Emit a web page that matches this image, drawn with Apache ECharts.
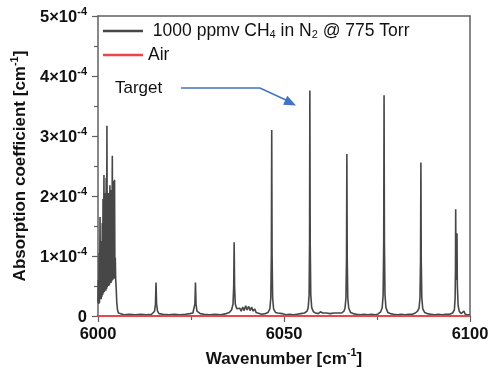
<!DOCTYPE html>
<html>
<head>
<meta charset="utf-8">
<script src="https://cdn.jsdelivr.net/npm/echarts@6/dist/echarts.min.js"></script>
<style>
html,body{margin:0;padding:0;background:#fff}
#chart{width:489px;height:370px}
</style>
</head>
<body>
<div id="chart"></div>
<script>
// absorption values are in units of 1e-4 cm^-1
var xTicks = [6000, 6050, 6100];
var yTicks = [0, 1, 2, 3, 4, 5];
var yExponent = '-4';

var seriesNames = ['1000 ppmv CH4 in N2 @ 775 Torr', 'Air'];

// band head region, dense lines
var ch4BandHead = [
	[6000.0,0.22],[6000.1,0.6],[6000.2,0.2],[6000.3,1.05],[6000.4,0.22],[6000.55,1.65],[6000.65,0.3],
	[6000.75,1.25],[6000.85,0.28],[6000.95,0.9],[6001.05,0.32],[6001.15,1.55],[6001.25,0.35],[6001.35,1.95],
	[6001.45,0.38],[6001.6,2.35],[6001.7,0.4],[6001.8,1.75],[6001.9,0.42],[6002.0,2.05],[6002.1,0.42],
	[6002.2,2.3],[6002.3,0.45],[6002.4,3.17],[6002.5,0.48],[6002.6,1.95],[6002.7,0.5],[6002.8,2.05],
	[6002.9,0.5],[6003.0,1.85],[6003.1,0.52],[6003.2,2.18],[6003.3,0.55],[6003.4,2.0],[6003.5,0.55],
	[6003.6,2.1],[6003.7,0.58],[6003.85,2.67],[6003.95,0.6],[6004.05,2.0],[6004.15,0.62],[6004.25,2.25],
	[6004.35,0.62],[6004.45,2.27],[6004.55,0.63],[6004.65,0.97],[6004.75,0.62],[6004.9,0.45],[6005.05,0.22],
	[6005.25,0.1],[6005.5,0.05],[6006,0.03]
];

// isolated lines and baseline
var ch4Lines = [
	[6007,0.02],[6008.5,0.03],[6010,0.02],[6011.5,0.03],[6013,0.02],[6014.4,0.03],
	[6014.8,0.04],[6015.2,0.08],[6015.45,0.2],[6015.6,0.56],[6015.75,0.2],[6016.0,0.08],[6016.4,0.04],
	[6017.5,0.03],[6019,0.02],[6020.5,0.03],[6022,0.02],[6023.5,0.03],[6024.7,0.04],[6025.1,0.01],[6025.5,0.05],
	[6025.8,0.08],[6026.05,0.2],[6026.2,0.56],[6026.35,0.2],[6026.6,0.08],[6027,0.05],[6027.5,0.04],
	[6028.5,0.03],[6030,0.02],[6031.5,0.03],[6033,0.02],[6034.5,0.04],[6035.3,0.06],
	[6035.9,0.1],[6036.3,0.2],[6036.48,0.5],[6036.6,1.23],[6036.72,0.5],[6036.9,0.2],[6037.3,0.12],
	[6037.7,0.1],[6038.1,0.13],[6038.5,0.08],[6038.9,0.15],[6039.3,0.09],[6039.7,0.17],[6040.1,0.1],
	[6040.5,0.16],[6040.9,0.09],[6041.3,0.15],[6041.7,0.08],[6042.1,0.12],[6042.5,0.06],[6043,0.05],
	[6044,0.03],[6045,0.04],[6045.7,0.06],
	[6046.2,0.12],[6046.45,0.3],[6046.6,1.0],[6046.7,3.1],[6046.8,1.0],[6046.95,0.3],[6047.2,0.12],[6047.7,0.06],
	[6048.3,0.05],[6048.8,0.03],[6049.5,0.04],[6050.5,0.02],[6051.5,0.03],[6052.5,0.02],[6053.5,0.03],
	[6054.5,0.04],[6055.5,0.05],[6056.2,0.08],
	[6056.5,0.14],[6056.75,0.35],[6056.87,1.2],[6056.95,3.76],[6057.05,1.2],[6057.2,0.35],[6057.45,0.14],[6057.9,0.07],
	[6058.5,0.05],[6059.2,0.04],[6059.8,0.07],[6060.4,0.05],[6060.9,0.08],[6061.4,0.05],[6061.9,0.07],
	[6062.4,0.04],[6062.9,0.07],[6063.4,0.05],[6063.9,0.08],[6064.4,0.05],[6064.9,0.04],[6065.5,0.05],[6066.1,0.08],
	[6066.4,0.13],[6066.65,0.3],[6066.8,0.95],[6066.9,2.7],[6067.0,0.95],[6067.15,0.3],[6067.4,0.13],[6067.9,0.06],
	[6068.6,0.04],[6069.5,0.03],[6070.5,0.02],[6071.5,0.03],[6072.5,0.02],[6073.5,0.03],[6074.5,0.02],
	[6075.2,0.03],[6076.0,0.07],
	[6076.4,0.14],[6076.65,0.35],[6076.8,1.2],[6076.9,3.68],[6077.0,1.2],[6077.15,0.35],[6077.4,0.14],[6077.9,0.06],
	[6078.6,0.04],[6079.5,0.03],[6080.5,0.02],[6081.5,0.03],[6082.5,0.02],[6083.5,0.03],[6084.5,0.03],
	[6085.3,0.05],[6085.9,0.08],
	[6086.3,0.13],[6086.55,0.3],[6086.7,0.9],[6086.8,2.56],[6086.9,0.9],[6087.05,0.3],[6087.3,0.12],[6087.8,0.06],
	[6088.5,0.04],[6089.5,0.03],[6090.5,0.02],[6091.5,0.03],[6092.5,0.02],[6093.5,0.03],[6094.5,0.03],
	[6095.3,0.05],[6095.8,0.1],
	[6096.0,0.3],[6096.1,0.8],[6096.15,1.78],[6096.25,0.7],[6096.38,0.6],[6096.5,1.38],[6096.6,0.5],
	[6096.8,0.18],[6097.1,0.08],[6097.6,0.04],[6098.1,0.05],[6098.4,0.08],[6098.7,0.03],[6099.3,0.02],[6100,0.02]
];

var airWavenumber = [6000, 6025, 6050, 6075, 6100];
var airAbsorption = [0, 0, 0, 0, 0];

var FONT = '"Liberation Sans", Arial, sans-serif';
var AXIS = '#606060';
var CH4_COLOR = '#474747';
var AIR_COLOR = '#e8464b';

function drawChart(){
	var myChart = echarts.init(document.getElementById('chart'));
	var airData = airWavenumber.map(function(x, i){ return [x, airAbsorption[i]]; });

	var option = {
		animation: false,
		textStyle: { fontFamily: FONT },
		grid: { left: 98, right: 19, top: 16, bottom: 54, containLabel: false, outerBoundsMode: 'none' },
		legend: {
			left: 103, top: 22, orient: 'vertical', padding: 0,
			itemWidth: 40, itemHeight: 2.5, itemGap: 6, icon: 'rect',
			data: [
				{ name: seriesNames[0], itemStyle: { color: CH4_COLOR } },
				{ name: seriesNames[1], itemStyle: { color: AIR_COLOR } }
			],
			formatter: function(name){
				if (name === 'Air') return '{t|Air}';
				return '{t| 1000 ppmv CH}{s|4}{t| in N}{s|2}{t| @ 775 Torr}';
			},
			textStyle: {
				color: '#111',
				rich: {
					t: { fontSize: 17.5, fontFamily: FONT, color: '#111', lineHeight: 18, verticalAlign: 'bottom' },
					s: { fontSize: 11, fontFamily: FONT, color: '#111', lineHeight: 11, verticalAlign: 'bottom' }
				}
			}
		},
		xAxis: [{
			type: 'value', min: xTicks[0], max: xTicks[xTicks.length - 1], interval: xTicks[1] - xTicks[0],
			name: '{n|Wavenumber [cm}{s|-1}{n|]}', nameLocation: 'middle', nameGap: 30,
			nameTextStyle: { rich: {
				n: { fontSize: 17, fontWeight: 'bold', fontFamily: FONT, color: '#111', lineHeight: 20, verticalAlign: 'bottom' },
				s: { fontSize: 11, fontWeight: 'bold', fontFamily: FONT, color: '#111', lineHeight: 20, verticalAlign: 'top' }
			}},
			axisLine: { onZero: false, lineStyle: { color: AXIS, width: 1.5 } },
			axisTick: { inside: false, length: 6, lineStyle: { color: AXIS, width: 1.2 } },
			minorTick: { show: true, splitNumber: 2, length: 4, lineStyle: { color: AXIS, width: 1.2 } },
			splitLine: { show: false },
			axisLabel: {
				margin: 10, fontSize: 16.5, fontWeight: 'bold', color: '#111', fontFamily: FONT,
				formatter: function(v){ return String(v); }
			}
		}, {
			type: 'value', position: 'top', min: xTicks[0], max: xTicks[xTicks.length - 1],
			axisLine: { show: true, onZero: false, lineStyle: { color: AXIS, width: 1.5 } },
			axisTick: { show: false }, axisLabel: { show: false }, splitLine: { show: false }
		}],
		yAxis: [{
			type: 'value', min: yTicks[0], max: yTicks[yTicks.length - 1], interval: 1,
			name: '{n|Absorption coefficient [cm}{s|-1}{n|]}', nameLocation: 'middle', nameGap: 67, nameRotate: 90,
			nameTextStyle: { rich: {
				n: { fontSize: 17, fontWeight: 'bold', fontFamily: FONT, color: '#111', lineHeight: 20, verticalAlign: 'bottom' },
				s: { fontSize: 11, fontWeight: 'bold', fontFamily: FONT, color: '#111', lineHeight: 20, verticalAlign: 'top' }
			}},
			axisLine: { show: true, onZero: false, lineStyle: { color: AXIS, width: 1.5 } },
			axisTick: { show: true, inside: false, length: 6, lineStyle: { color: AXIS, width: 1.2 } },
			minorTick: { show: true, splitNumber: 2, length: 4, lineStyle: { color: AXIS, width: 1.2 } },
			splitLine: { show: false },
			axisLabel: {
				margin: 11, color: '#111',
				formatter: function(v){
					if (v === 0) return '{m|0}';
					return '{m|' + v + '×10}{s|' + yExponent + '}';
				},
				rich: {
					m: { fontSize: 16.5, fontWeight: 'bold', fontFamily: FONT, color: '#111', lineHeight: 20, verticalAlign: 'bottom' },
					s: { fontSize: 11, fontWeight: 'bold', fontFamily: FONT, color: '#111', lineHeight: 20, verticalAlign: 'top' }
				}
			}
		}, {
			type: 'value', position: 'right', min: yTicks[0], max: yTicks[yTicks.length - 1],
			axisLine: { show: true, onZero: false, lineStyle: { color: AXIS, width: 1.5 } },
			axisTick: { show: false }, axisLabel: { show: false }, splitLine: { show: false }
		}],
		series: [{
			name: seriesNames[0], type: 'line', symbol: 'none',
			data: ch4BandHead.concat(ch4Lines),
			lineStyle: { color: CH4_COLOR, width: 1.6 },
			itemStyle: { color: CH4_COLOR }
		}, {
			name: seriesNames[1], type: 'line', symbol: 'none',
			data: airData,
			lineStyle: { color: AIR_COLOR, width: 2 },
			itemStyle: { color: AIR_COLOR }
		}],
		graphic: [
			{ type: 'text', left: 115, top: 80, style: { text: 'Target', fontSize: 17, fontFamily: FONT, fill: '#111' } },
			{ type: 'polyline', shape: { points: [[181, 88], [260, 88], [287, 100.5]] },
				style: { stroke: '#4472c4', lineWidth: 1.6, fill: null } },
			{ type: 'polygon', shape: { points: [[296, 105.5], [283.1, 104.8], [287.3, 95.8]] },
				style: { fill: '#4472c4', stroke: null } }
		]
	};
	myChart.setOption(option);
}

window.addEventListener('load', drawChart);
</script>
</body>
</html>
